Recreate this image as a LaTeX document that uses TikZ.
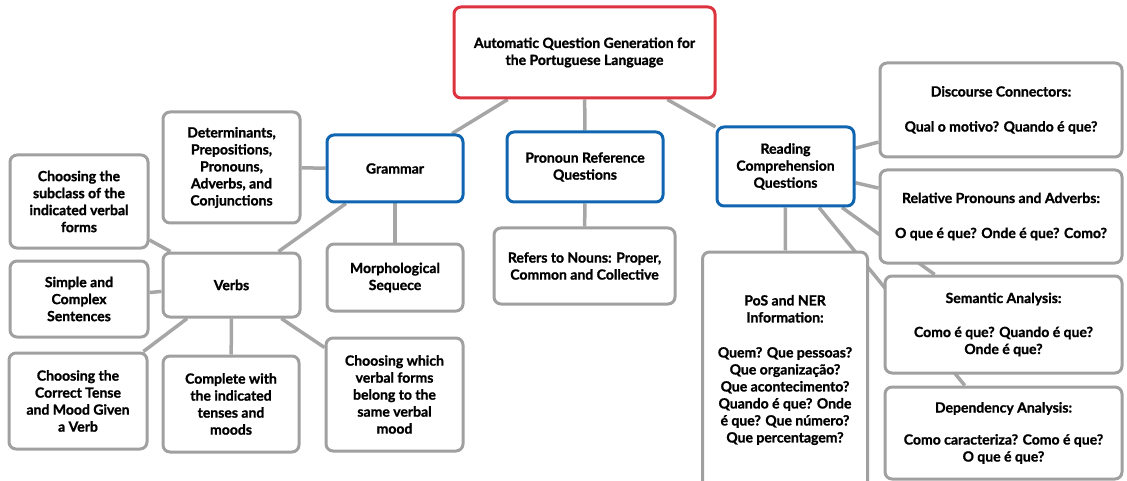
\documentclass[tikz,border=0pt]{standalone}
\usepackage{fontspec}
\setmainfont{Lato}[BoldFeatures={FakeBold=1.2}]
\usetikzlibrary{backgrounds}
\definecolor{rootred}{RGB}{221,51,62}
\definecolor{topicblue}{RGB}{16,101,176}
\definecolor{framegray}{RGB}{160,160,160}
\definecolor{linkgray}{RGB}{166,166,166}
\tikzset{
  cardbase/.style={draw=framegray,fill=white,rounded corners=7pt,line width=3pt,
    align=center,inner sep=0pt,font=\fontsize{14}{17}\selectfont\bfseries},
  mainbox/.style={cardbase,draw=rootred},
  topicbox/.style={cardbase,draw=topicblue},
  itembox/.style={cardbase},
  link/.style={draw=linkgray,line width=3.5pt}
}
\begin{document}
\begin{tikzpicture}[x=1pt,y=-1pt]
  \useasboundingbox (0,0) rectangle (1127,481);
  \clip (0,0) rectangle (1127,481);
  % root of the map:
  \node[mainbox,minimum width=261,minimum height=91] (root) at (584.5,52.5)
    {Automatic Question Generation for\\the Portuguese Language};
  % the three topics:
  \node[topicbox,minimum width=136,minimum height=67] (grammar) at (395,168.5) {Grammar};
  \node[topicbox,minimum width=156,minimum height=70] (pronoun) at (585,167)
    {Pronoun Reference\\Questions};
  \node[topicbox,minimum width=137,minimum height=79] (reading) at (785.5,166.5)
    {Reading\\Comprehension\\Questions};
  % grammar branch:
  \node[itembox,minimum width=137,minimum height=111] (determ) at (231.5,167.5)
    {Determinants,\\Prepositions,\\Pronouns,\\Adverbs, and\\Conjunctions};
  \node[itembox,minimum width=136,minimum height=67] (morph) at (395,277.5)
    {Morphological\\Sequece};
  \node[itembox,minimum width=137,minimum height=64] (verbs) at (231.5,285) {Verbs};
  % verbs branch:
  \node[itembox,minimum width=138,minimum height=93] (subclass) at (79,201.5)
    {Choosing the\\subclass of the\\indicated verbal\\forms};
  \node[itembox,minimum width=138,minimum height=76] (simple) at (79,299)
    {Simple and\\Complex\\Sentences};
  \node[itembox,minimum width=138,minimum height=96] (tense) at (78,401)
    {Choosing the\\Correct Tense\\and Mood Given\\a Verb};
  \node[itembox,minimum width=136,minimum height=96] (complete) at (231,404)
    {Complete with\\the indicated\\tenses and\\moods};
  \node[itembox,minimum width=137,minimum height=113] (which) at (394.5,394.5)
    {Choosing which\\verbal forms\\belong to the\\same verbal\\mood};
  % pronoun branch:
  \node[itembox,minimum width=181,minimum height=76] (refers) at (584.5,266)
    {Refers to Nouns: Proper,\\Common and Collective};
  % reading branch:
  \node[itembox,minimum width=242,minimum height=94] (discourse) at (1001,110)
    {Discourse Connectors:\\[18pt]Qual o motivo? Quando é que?};
  \node[itembox,minimum width=242,minimum height=93] (relative) at (1001,216.5)
    {Relative Pronouns and Adverbs:\\[18pt]O que é que? Onde é que? Como?};
  \node[itembox,minimum width=165,minimum height=236] (pos) at (785,370)
    {PoS and NER\\Information:\\[18pt]Quem? Que pessoas?\\Que organização?\\Que acontecimento?\\Quando é que? Onde\\é que? Que número?\\Que percentagem?};
  \node[itembox,minimum width=237,minimum height=97] (semantic) at (1003.5,324.5)
    {Semantic Analysis:\\[17pt]Como é que? Quando é que?\\Onde é que?};
  \node[itembox,minimum width=237,minimum height=92] (dependency) at (1003.5,433)
    {Dependency Analysis:\\[15pt]Como caracteriza? Como é que?\\O que é que?};
  % connectors, behind the boxes:
  \begin{scope}[on background layer]
    \draw[link] (root) -- (grammar);
    \draw[link] (root) -- (pronoun);
    \draw[link] (root) -- (reading);
    \draw[link] (grammar) -- (determ);
    \draw[link] (grammar) -- (morph);
    \draw[link] (grammar) -- (verbs);
    \foreach \leaf in {subclass,simple,tense,complete,which}
      \draw[link] (verbs) -- (\leaf);
    \draw[link] (pronoun) -- (refers);
    \foreach \leaf in {discourse,relative,pos,semantic,dependency}
      \draw[link] (reading) -- (\leaf);
  \end{scope}
\end{tikzpicture}
\end{document}
